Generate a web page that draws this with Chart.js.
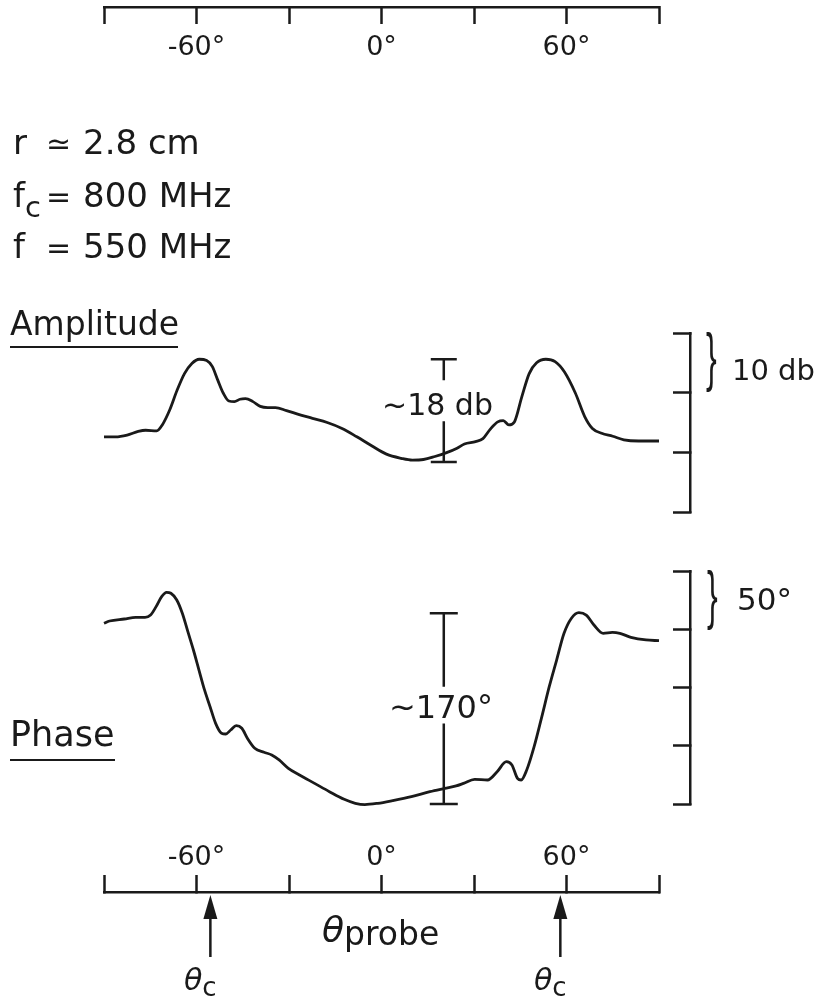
<!DOCTYPE html>
<html>
<head>
<meta charset="utf-8">
<title>Amplitude and phase against probe angle</title>
<script src="https://cdn.jsdelivr.net/npm/chart.js@4.4.1/dist/chart.umd.min.js"></script>
<style>
  html, body { margin: 0; padding: 0; background: #fff; }
  #wrap { position: relative; width: 822px; height: 1001px; overflow: hidden;
          font-family: "DejaVu Sans", sans-serif; color: #1a1a1a; }
  #chart { position: absolute; left: 0; top: 0; }
  .t { position: absolute; line-height: 1; white-space: nowrap; }
  .rule { position: absolute; height: 0; border-top: 2.5px solid #1a1a1a; }
  .brace { position: absolute; font-family: "Liberation Sans", sans-serif; font-size: 64px;
           line-height: 1; transform: scaleX(0.5); transform-origin: 0 0; }
  .sym { display: inline-block; width: 33px; }
  .rel { display: inline-block; width: 37px; font-size: 30px; }
  .lo { position: relative; }
</style>
</head>
<body>
<div id="wrap">
  <canvas id="chart" width="822" height="1001"></canvas>

  <div class="t" style="left:13px;top:125px;font-size:34px"><span class="sym">r</span><span class="rel">≃</span>2.8 cm</div>
  <div class="t" style="left:13px;top:178px;font-size:34px"><span class="sym">f<span class="lo" style="font-size:29px;top:10px">c</span></span><span class="rel">=</span>800 MHz</div>
  <div class="t" style="left:13px;top:229px;font-size:34px"><span class="sym">f</span><span class="rel">=</span>550 MHz</div>

  <div class="t" style="left:10px;top:307px;font-size:33px">Amplitude</div>
  <div class="rule" style="left:10px;top:346px;width:168px"></div>
  <div class="t" style="left:10px;top:717px;font-size:35px">Phase</div>
  <div class="rule" style="left:10px;top:759px;width:105px"></div>

  <div class="t" style="left:382px;top:390px;font-size:30px">~18 db</div>
  <div class="t" style="left:389px;top:691px;font-size:32px">~170°</div>

  <div class="brace" style="left:706px;top:325px">}</div>
  <div class="t" style="left:732px;top:356px;font-size:29px">10 db</div>
  <div class="brace" style="left:707px;top:563px">}</div>
  <div class="t" style="left:737px;top:584px;font-size:31px">50°</div>

  <div class="t" style="left:322px;top:912px;font-size:36px"><i>θ</i><span class="lo" style="font-size:33px;top:3px">probe</span></div>
  <div class="t" style="left:184px;top:965px;font-size:30px"><i>θ</i><span class="lo" style="font-size:26px;top:6px">c</span></div>
  <div class="t" style="left:534px;top:965px;font-size:30px"><i>θ</i><span class="lo" style="font-size:26px;top:6px">c</span></div>
</div>

<script>
const ink = "#1a1a1a";

// amplitude trace: probe angle (deg) and level in dB below the top mark of the 10 db scale
const ampTheta = [-90, -86.2, -82.5, -78.9, -76.5, -72.9, -71.1, -68.7, -66.3, -63.9,
  -61.5, -59.1, -56.7, -54.9, -53.1, -51.3, -49.5, -47.7, -45.9, -44.1,
  -41.7, -39.3, -36.9, -34.4, -30.8, -27.2, -22.4, -17.6, -12.8, -8.0,
  -3.2, 1.6, 6.4, 10.0, 13.6, 17.3, 20.9, 24.5, 26.9, 30.5,
  32.9, 35.3, 37.7, 39.5, 41.3, 43.1, 45.5, 47.9, 50.3, 53.3,
  56.3, 59.3, 62.9, 65.9, 68.4, 71.4, 75.0, 78.6, 83.4, 90];
const ampDb = [-17.4, -17.4, -17.1, -16.5, -16.3, -16.4, -15.4, -12.9, -9.6, -6.8,
  -5.1, -4.4, -4.6, -5.6, -7.9, -10.1, -11.4, -11.5, -11.1, -11.0,
  -11.5, -12.3, -12.5, -12.5, -13.0, -13.6, -14.3, -15.0, -16.0, -17.4,
  -18.9, -20.3, -21.0, -21.3, -21.2, -20.7, -20.1, -19.3, -18.6, -18.2,
  -17.7, -16.1, -14.9, -14.7, -15.4, -14.9, -10.7, -6.8, -5.0, -4.4,
  -4.8, -6.5, -10.1, -14.0, -16.0, -16.8, -17.3, -17.9, -18.1, -18.1];

// phase trace: probe angle (deg) and phase (deg) above the lowest mark of the 50° scale
const phaseTheta = [-90, -88.2, -83.4, -79.7, -76.7, -74.9, -73.1, -71.3, -69.7, -68.3,
  -66.4, -64.6, -62.8, -61.0, -59.2, -57.4, -55.6, -53.8, -51.9, -50.5,
  -48.9, -47.1, -45.3, -43.5, -41.1, -38.1, -35.6, -33.2, -30.2, -26.6,
  -21.7, -16.9, -12.1, -8.5, -5.4, -1.2, 3.6, 9.7, 15.7, 20.5,
  24.2, 26.6, 30.2, 34.4, 37.5, 40.5, 42.3, 44.1, 45.3, 47.1,
  49.5, 52.0, 54.4, 56.8, 59.2, 61.6, 64.0, 66.4, 68.9, 71.9,
  74.9, 77.3, 80.9, 85.8, 90];
const phaseDeg = [155.1, 157.1, 158.8, 160.2, 160.2, 162.2, 169.4, 178.0, 181.7, 180.9,
  175.1, 163.7, 147.9, 132.2, 115.0, 97.9, 83.5, 69.2, 60.7, 60.1,
  63.5, 67.2, 65.0, 56.4, 47.8, 44.4, 42.1, 37.8, 30.6, 24.9,
  17.7, 10.6, 4.0, 0.6, -0.5, 0.6, 2.9, 6.3, 10.6, 13.4,
  15.5, 17.7, 21.2, 20.6, 27.7, 36.3, 33.5, 22.0, 20.6, 29.2,
  49.2, 75.0, 100.7, 123.6, 146.5, 159.4, 164.2, 162.2, 153.6, 146.5,
  147.3, 146.5, 143.1, 140.8, 140.2];

const xTicks = [-90, -60, -30, 0, 30, 60, 90];
const xLabels = [-60, 0, 60];
const ampRange = [-30, 0];
const ampStep = 10;
const phaseRange = [0, 200];
const phaseStep = 50;
const thetaC = [-55.5, 58];

// the two "~18 db" / "~170°" span bars: top, gap start, gap end, bottom
const spanAt = 20.2;
const ampSpan = [-4.4, -7.9, -14.8, -21.6];
const phaseSpan = [163.7, 100.7, 69.2, 0];

Chart.defaults.font.family = "DejaVu Sans";
Chart.defaults.color = ink;

const xAxis = (position, pad, height) => ({
  type: "linear",
  position: position,
  min: -90,
  max: 90,
  afterBuildTicks: (s) => { s.ticks = xTicks.map((v) => ({ value: v })); },
  afterFit: (s) => { s.height = height; },
  grid: { drawOnChartArea: false, tickLength: -17, tickWidth: 2.5, tickColor: ink },
  border: { color: ink, width: 2.5 },
  ticks: {
    mirror: true, padding: pad, autoSkip: false, maxRotation: 0, color: ink,
    font: { size: 27 },
    callback: (v) => (xLabels.includes(v) ? v + "°" : "")
  }
});

// empty strip between the traces and the brackets
const gap = {
  type: "linear", position: "right", weight: 0,
  ticks: { display: false }, grid: { display: false }, border: { display: false },
  afterFit: (s) => { s.width = 31; }
};

// right-hand side is one stack: blank / 10 db bracket / blank / 50° bracket / blank
const blank = (weight, stackWeight) => ({
  type: "linear", position: "right", stack: "right", weight: weight,
  stackWeight: stackWeight, display: false
});
const bracket = (weight, stackWeight, range, step) => ({
  type: "linear", position: "right", stack: "right", weight: weight,
  stackWeight: stackWeight, min: range[0], max: range[1],
  ticks: { display: false, stepSize: step },
  grid: { drawOnChartArea: false, tickLength: -17, tickWidth: 2.5, tickColor: ink },
  border: { color: ink, width: 2.5 },
  afterFit: (s) => { s.width = 132; }
});

function spanBar(ctx, px, ys, half) {
  const [top, g1, g2, bot] = ys;
  ctx.beginPath();
  ctx.moveTo(px - half, top); ctx.lineTo(px + half, top);
  ctx.moveTo(px, top); ctx.lineTo(px, g1);
  ctx.moveTo(px, g2); ctx.lineTo(px, bot);
  ctx.moveTo(px - half, bot); ctx.lineTo(px + half, bot);
  ctx.stroke();
}

function arrowUp(ctx, px, tip, end) {
  ctx.beginPath();
  ctx.moveTo(px, tip + 20); ctx.lineTo(px, end);
  ctx.stroke();
  ctx.beginPath();
  ctx.moveTo(px, tip); ctx.lineTo(px - 7, tip + 24); ctx.lineTo(px + 7, tip + 24);
  ctx.closePath();
  ctx.fill();
}

const marks = {
  id: "marks",
  afterDatasetsDraw(chart) {
    const { ctx } = chart;
    const { x, yAmp, yPh } = chart.scales;
    ctx.save();
    ctx.strokeStyle = ink;
    ctx.fillStyle = ink;
    ctx.lineWidth = 2.5;
    spanBar(ctx, x.getPixelForValue(spanAt), ampSpan.map((v) => yAmp.getPixelForValue(v)), 13);
    spanBar(ctx, x.getPixelForValue(spanAt), phaseSpan.map((v) => yPh.getPixelForValue(v)), 14);
    thetaC.forEach((t) => arrowUp(ctx, x.getPixelForValue(t), x.top + 3, x.top + 65));
    ctx.restore();
  }
};

const trace = {
  borderColor: ink, borderWidth: 2.8, pointRadius: 0, fill: false,
  tension: 0.3, cubicInterpolationMode: "monotone", clip: false
};

new Chart(document.getElementById("chart"), {
  type: "line",
  data: {
    datasets: [
      { ...trace, label: "Amplitude", xAxisID: "x", yAxisID: "yAmp",
        data: ampTheta.map((t, i) => ({ x: t, y: ampDb[i] })) },
      { ...trace, label: "Phase", xAxisID: "x", yAxisID: "yPh",
        data: phaseTheta.map((t, i) => ({ x: t, y: phaseDeg[i] })) }
    ]
  },
  options: {
    responsive: false,
    devicePixelRatio: 1,
    animation: false,
    layout: { padding: { left: 104, right: 0, top: 0, bottom: 0 } },
    plugins: { legend: { display: false }, tooltip: { enabled: false } },
    scales: {
      x: xAxis("bottom", 18, 109),
      xTop: xAxis("top", 25, 7),
      yGap: gap,
      yTop: blank(1, 326),
      yAmp: bracket(2, 179, ampRange, ampStep),
      yMid: blank(3, 59),
      yPh: bracket(4, 233, phaseRange, phaseStep),
      yBot: blank(5, 88)
    }
  },
  plugins: [marks]
});
</script>
</body>
</html>
